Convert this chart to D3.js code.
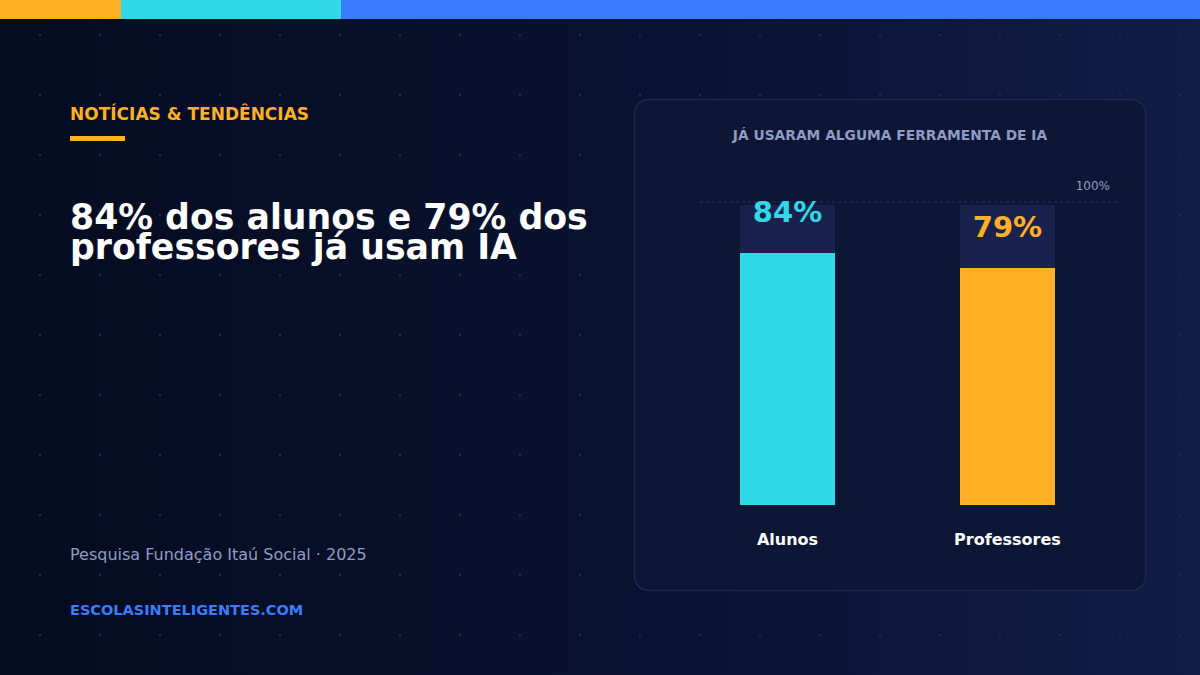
<!DOCTYPE html>
<html><head><meta charset="utf-8">
<script src="https://cdn.jsdelivr.net/npm/d3@7"></script>
<style>body{margin:0;background:#050b1f}svg{display:block;font-family:"DejaVu Sans",sans-serif}</style>
</head><body><svg id="c" width="1200" height="675"></svg>
<script>
var categories = ["Alunos", "Professores"];
var values = [84, 79];
var barColors = ["#31d8e6", "#ffb024"];
var stripeWidths = [121, 220, 859];
var stripeColors = ["#ffb024", "#31d8e6", "#3b7bff"];

var svg = d3.select("#c");
var defs = svg.append("defs");
var g = defs.append("linearGradient").attr("id", "bg");
g.append("stop").attr("offset", "0%").attr("stop-color", "#050b1f");
g.append("stop").attr("offset", "60%").attr("stop-color", "#0a1332");
g.append("stop").attr("offset", "100%").attr("stop-color", "#111d45");
svg.append("rect").attr("width", 1200).attr("height", 675).attr("fill", "url(#bg)");

// dot grid
var dots = [];
for (var x = 40; x < 1200; x += 60) for (var y = 35; y < 675; y += 60) dots.push([x, y]);
svg.selectAll(".dot").data(dots).enter().append("circle")
  .attr("cx", d => d[0]).attr("cy", d => d[1]).attr("r", 1.2).attr("fill", "#1c2a55");

// top stripe
var sx = 0;
stripeWidths.forEach((w, i) => {
  svg.append("rect").attr("x", sx).attr("y", 0).attr("width", w).attr("height", 19).attr("fill", stripeColors[i]);
  sx += w;
});

// left text
svg.append("text").attr("x", 70).attr("y", 120).attr("fill", "#ffb024").attr("font-size", 17).attr("font-weight", 700).text("NOTÍCIAS & TENDÊNCIAS");
svg.append("rect").attr("x", 70).attr("y", 136).attr("width", 55).attr("height", 5).attr("fill", "#ffb024");
svg.append("text").attr("x", 70).attr("y", 229).attr("fill", "#fff").attr("font-size", 34.7).attr("font-weight", 700).text("84% dos alunos e 79% dos");
svg.append("text").attr("x", 70).attr("y", 259).attr("fill", "#fff").attr("font-size", 34.7).attr("font-weight", 700).text("professores já usam IA");
svg.append("text").attr("x", 70).attr("y", 560).attr("fill", "#8f9cc4").attr("font-size", 16).text("Pesquisa Fundação Itaú Social · 2025");
svg.append("text").attr("x", 70).attr("y", 615).attr("fill", "#3b7bff").attr("font-size", 14.5).attr("font-weight", 700).text("ESCOLASINTELIGENTES.COM");

// panel
svg.append("rect").attr("x", 634.5).attr("y", 99.5).attr("width", 511).attr("height", 491).attr("rx", 14)
  .attr("fill", "#0d1735").attr("stroke", "#1b2752").attr("stroke-width", 1.5);
svg.append("text").attr("x", 890).attr("y", 140).attr("text-anchor", "middle").attr("fill", "#8f9cc4")
  .attr("font-size", 13.8).attr("font-weight", 700).text("JÁ USARAM ALGUMA FERRAMENTA DE IA");

var xs = d3.scaleBand().domain(categories).range([630, 1165]).paddingInner(0.568).paddingOuter(0.5);
var ys = d3.scaleLinear().domain([0, 100]).range([505, 205]);

svg.append("line").attr("x1", 700).attr("x2", 1120).attr("y1", ys(100) - 3).attr("y2", ys(100) - 3)
  .attr("stroke", "#24325f").attr("stroke-dasharray", "3,3");
svg.append("text").attr("x", 1110).attr("y", 190).attr("text-anchor", "end").attr("fill", "#8f9cc4").attr("font-size", 12).text("100%");

var bars = svg.selectAll(".b").data(categories).enter().append("g");
bars.append("rect").attr("x", d => xs(d)).attr("y", ys(100)).attr("width", xs.bandwidth())
  .attr("height", ys(0) - ys(100)).attr("fill", "#18224d");
bars.append("rect").attr("x", d => xs(d)).attr("y", (d, i) => ys(values[i])).attr("width", xs.bandwidth())
  .attr("height", (d, i) => ys(0) - ys(values[i])).attr("fill", (d, i) => barColors[i]);
bars.append("text").attr("x", d => xs(d) + xs.bandwidth() / 2).attr("y", (d, i) => ys(values[i]) - 31)
  .attr("text-anchor", "middle").attr("fill", (d, i) => barColors[i]).attr("font-size", 29).attr("font-weight", 700)
  .text((d, i) => values[i] + "%");
bars.append("text").attr("x", d => xs(d) + xs.bandwidth() / 2).attr("y", 545)
  .attr("text-anchor", "middle").attr("fill", "#fff").attr("font-size", 16).attr("font-weight", 700).text(d => d);
</script></body></html>
